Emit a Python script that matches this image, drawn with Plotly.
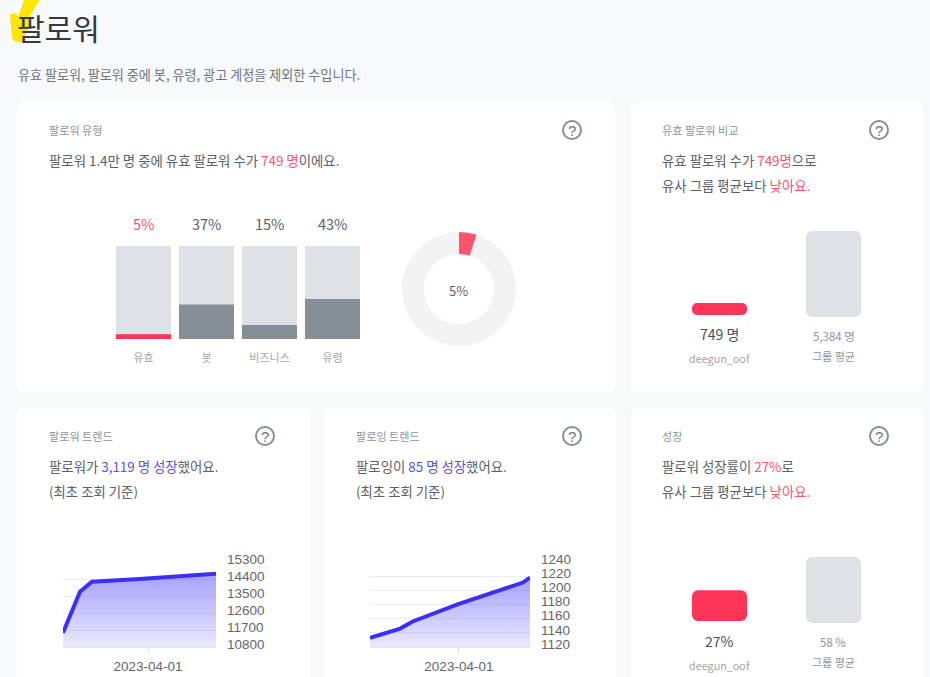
import plotly.graph_objects as go

W, H = 930, 677

# ---- data ----
type_labels = ["유효", "봇", "비즈니스", "유령"]
type_shares = [5, 37, 15, 43]
type_full = [100, 100, 100, 100]
donut_values = [5, 95]

compare_labels = ["deegun_oof", "그룹 평균"]
compare_values = [749, 5384]
compare_texts = ["749 명", "5,384 명"]

growth_values = [27, 58]
growth_texts = ["27%", "58 %"]

trend_dates = ["2023-02-10", "2023-02-20", "2023-02-27", "2023-03-27", "2023-05-11"]
follower_values = [11560, 13730, 14260, 14400, 14679]
follower_ticks = [10800, 11700, 12600, 13500, 14400, 15300]

following_dates = ["2023-02-10", "2023-02-27", "2023-03-06", "2023-04-01", "2023-05-07", "2023-05-11"]
following_values = [1133, 1146, 1156, 1181, 1211, 1218]
following_ticks = [1120, 1140, 1160, 1180, 1200, 1220, 1240]

date_range = ["2023-02-10", "2023-05-11"]
date_ticks = ["2023-04-01"]

# ---- style ----
BG = "#f8f9fa"
RED = "#fe3558"
PINK = "#ff5470"
TRACK = "#dee2e6"
SLATE = "#868e96"
BLUE = "#3a2ffb"
INK = "#5a6168"
CJK = "Noto Sans CJK KR"
ARIAL = "Liberation Sans"
HEAD = 11.1
BODY = 13.4


def xdom(a, b):
    return [a / W, b / W]


def ydom(top, bottom):
    return [1 - bottom / H, 1 - top / H]


def note(text, x, y, size, color=INK, anchor="left", family=CJK, weight=None):
    font = dict(size=size, color=color, family=family)
    if weight:
        font["weight"] = weight
    return dict(text=text, x=x / W, y=1 - y / H, xref="paper", yref="paper",
                xanchor=anchor, yanchor="middle", showarrow=False, font=font,
                borderpad=0, borderwidth=0)


def rounded(x0, y0, x1, y1, r=8):
    return (f"M {x0+r} {y0} L {x1-r} {y0} Q {x1} {y0} {x1} {y0+r} L {x1} {y1-r} "
            f"Q {x1} {y1} {x1-r} {y1} L {x0+r} {y1} Q {x0} {y1} {x0} {y1-r} "
            f"L {x0} {y0+r} Q {x0} {y0} {x0+r} {y0} Z")


shapes = []
annotations = []


def px_path(d):
    # converts a pixel path to paper coordinates
    out = []
    toks = d.split()
    i = 0
    while i < len(toks):
        t = toks[i]
        if t in "MLQZ":
            out.append(t)
            i += 1
        else:
            out.append(f"{float(t)/W:.5f},{1-float(toks[i+1])/H:.5f}")
            i += 2
    return " ".join(out)


def card(x0, y0, x1, y1):
    shapes.append(dict(type="path", path=px_path(rounded(x0, y0, x1, y1)), xref="paper", yref="paper",
                       fillcolor="white", line=dict(width=0), layer="below"))


def help_icon(cx, cy):
    r = 9
    shapes.append(dict(type="circle", xref="paper", yref="paper",
                       x0=(cx - r) / W, x1=(cx + r) / W, y0=1 - (cy + r) / H, y1=1 - (cy - r) / H,
                       line=dict(color=SLATE, width=2), fillcolor="white", layer="below"))
    annotations.append(note("?", cx, cy, 15, "#6c757d", "center", ARIAL))


for c in [(17, 102, 615, 392), (631, 102, 923, 392), (17, 408, 310, 700),
          (324, 408, 616, 700), (631, 408, 923, 700)]:
    card(*c)
for c in [(572, 130), (879, 130), (265, 436), (572, 436), (879, 436)]:
    help_icon(*c)

# highlighter stroke behind the page title
shapes.append(dict(type="path", xref="paper", yref="paper", fillcolor="#ffe600", line=dict(width=0), layer="below",
                   path=px_path("M 24 0 L 39.5 0 L 31 14 L 24 42 Q 14 43 12 38 L 10 14 L 16 13 L 18 17 Z")))

annotations += [
    note("팔로워", 17, 27, 30, "#343a40"),
    note("유효 팔로워, 팔로워 중에 봇, 유령, 광고 계정을 제외한 수입니다.", 18, 75, 13.1, "#6c757d"),
    note("팔로워 유형", 49, 130, HEAD, "#8f959b"),
    note(f"팔로워 1.4만 명 중에 유효 팔로워 수가 <span style='color:{PINK}'>749 명</span>이에요.", 49, 160, BODY),
    note("유효 팔로워 비교", 662, 130, HEAD, "#8f959b"),
    note(f"유효 팔로워 수가 <span style='color:{PINK}'>749명</span>으로", 662, 160, BODY),
    note(f"유사 그룹 평균보다 <span style='color:{PINK}'>낮아요.</span>", 662, 185, BODY),
    note("팔로워 트렌드", 49, 436, HEAD, "#8f959b"),
    note("팔로워가 <span style='color:#5c50f0'>3,119 명 성장</span>했어요.", 49, 466, BODY),
    note("(최초 조회 기준)", 49, 491, BODY),
    note("팔로잉 트렌드", 356, 436, HEAD, "#8f959b"),
    note("팔로잉이 <span style='color:#5c50f0'>85 명 성장</span>했어요.", 356, 466, BODY),
    note("(최초 조회 기준)", 356, 491, BODY),
    note("성장", 662, 436, HEAD, "#8f959b"),
    note(f"팔로워 성장률이 <span style='color:{PINK}'>27%</span>로", 662, 466, BODY),
    note(f"유사 그룹 평균보다 <span style='color:{PINK}'>낮아요.</span>", 662, 491, BODY),
    note("5%", 458.5, 290, 13, INK, "center"),
    note(compare_texts[0], 719.5, 334, 14, "#495057", "center"),
    note(compare_labels[0], 719, 358, 10.8, "#a5a5a5", "center"),
    note(compare_texts[1], 833.5, 335.5, 11.5, "#8f959b", "center"),
    note(compare_labels[1], 833.5, 356, 11, "#8f959b", "center"),
    note(growth_texts[0], 719, 640.5, 14, "#495057", "center"),
    note(compare_labels[0], 719, 664.5, 10.8, "#a5a5a5", "center"),
    note(growth_texts[1], 833, 641.5, 11.5, "#8f959b", "center"),
    note(compare_labels[1], 833.5, 662, 11, "#8f959b", "center"),
]

# percentage labels above the type bars
for i, (v, col) in enumerate(zip(type_shares, [PINK, INK, INK, INK])):
    annotations.append(dict(text=f"{v}%", x=i, y=100, xref="x", yref="y", yshift=23, yanchor="middle",
                            showarrow=False, font=dict(size=14.5, color=col, family=CJK)))

fig = go.Figure()

# ---- type bars ----
BW = 55 / 63
fig.add_bar(x=type_labels, y=type_full, width=BW, marker=dict(color=TRACK, line=dict(width=0)),
            xaxis="x", yaxis="y", hoverinfo="skip")
fig.add_bar(x=type_labels, y=type_shares, width=BW,
            marker=dict(color=[RED, SLATE, SLATE, SLATE], line=dict(width=0)), xaxis="x", yaxis="y")

# ---- donut ----
fig.add_pie(values=donut_values, hole=35 / 57, sort=False, direction="clockwise", rotation=0,
            marker=dict(colors=[PINK, "#f3f3f3"], line=dict(width=0)), textinfo="none",
            domain=dict(x=xdom(402, 516), y=ydom(232, 346)))


# ---- comparison bars ----
def pair(values, xa, ya, top, base):
    lift = 2 * values[1] / (base - top)
    fig.add_bar(x=compare_labels, y=values, base=[lift, 0], width=55 / 114,
                marker=dict(color=[RED, TRACK], line=dict(width=0), cornerradius=6),
                xaxis=xa, yaxis=ya)


pair(compare_values, "x2", "y2", 231, 317)
pair(growth_values, "x3", "y3", 557, 623)


# ---- trends ----
def trend(dates, values, ticks, xa, ya):
    fig.add_scatter(x=dates, y=values, mode="lines", xaxis=xa, yaxis=ya, cliponaxis=False,
                    line=dict(color=BLUE, width=4), fill="tozeroy",
                    fillgradient=dict(type="vertical", start=max(values), stop=ticks[0],
                                      colorscale=[[0, "rgba(70,60,250,0.48)"], [1, "rgba(70,60,250,0.11)"]]))


trend(trend_dates, follower_values, follower_ticks, "x4", "y4")
trend(following_dates, following_values, following_ticks, "x5", "y5")


def hidden_x(a, b, anchor):
    return dict(domain=xdom(a, b), anchor=anchor, visible=False, range=[-0.5, 1.5], type="category",
                categoryorder="array", categoryarray=compare_labels)


def hidden_y(top, bottom, anchor, maxv):
    return dict(domain=ydom(top, bottom), anchor=anchor, visible=False, range=[0, maxv])


def date_x(a, b, anchor):
    return dict(domain=xdom(a, b), anchor=anchor, type="date", range=date_range, tickmode="array",
                tickvals=date_ticks, ticktext=date_ticks, ticks="outside", ticklen=5, tickcolor="#e0e0e0",
                showgrid=False, showline=True, linecolor="#e6e6e6", linewidth=1, zeroline=False,
                ticklabelstandoff=2, tickfont=dict(size=13.5, color="#666666", family=ARIAL))


def val_y(top, bottom, anchor, ticks):
    return dict(domain=ydom(top, bottom), anchor=anchor, side="right", range=[ticks[0], ticks[-1]],
                tickmode="array", tickvals=ticks, tickformat="d", showgrid=True, gridcolor="#ececec", gridwidth=1,
                zeroline=False, showline=False, ticks="", ticklabelstandoff=10, ticklabelshift=-3,
                tickfont=dict(size=13.5, color="#666666", family=ARIAL))


fig.update_layout(
    width=W, height=H, autosize=False, margin=dict(l=0, r=0, t=0, b=0, pad=0, autoexpand=False),
    paper_bgcolor=BG, plot_bgcolor="rgba(0,0,0,0)", showlegend=False, barmode="overlay",
    shapes=shapes, annotations=annotations, font=dict(family=CJK),
    xaxis=dict(domain=xdom(112, 364), anchor="y", type="category", categoryorder="array",
               categoryarray=type_labels, range=[-0.5, 3.5], showgrid=False, showline=False, zeroline=False,
               ticks="", ticklabelstandoff=11, tickfont=dict(size=11, color="#a5a5a5", family=CJK)),
    yaxis=dict(domain=ydom(246, 339), anchor="x", visible=False, range=[0, 100]),
    xaxis2=hidden_x(662.5, 890.5, "y2"), yaxis2=hidden_y(231, 317, "x2", compare_values[1]),
    xaxis3=hidden_x(662.5, 890.5, "y3"), yaxis3=hidden_y(557, 623, "x3", growth_values[1]),
    xaxis4=date_x(63, 216, "y4"), yaxis4=val_y(562, 647, "x4", follower_ticks),
    xaxis5=date_x(370, 530, "y5"), yaxis5=val_y(562, 647, "x5", following_ticks),
)

fig.write_html("out.html", config=dict(displayModeBar=False),
               post_script="document.body.style.margin='0';document.body.style.overflow='hidden';document.documentElement.style.overflow='hidden';")
